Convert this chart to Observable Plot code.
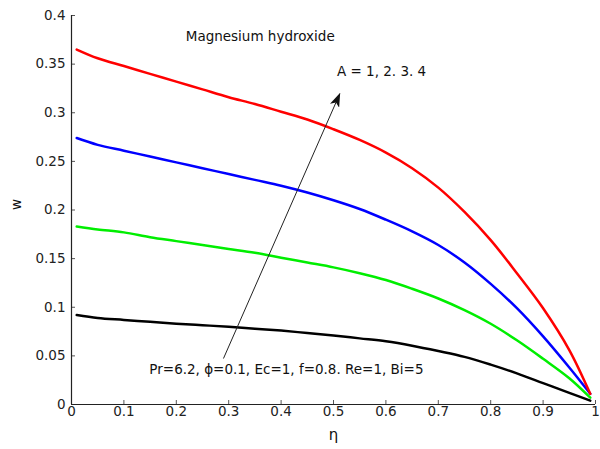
<!DOCTYPE html>
<html><head><meta charset="utf-8">
<script src="https://cdn.jsdelivr.net/npm/d3@7"></script>
<script src="https://cdn.jsdelivr.net/npm/@observablehq/plot@0.6"></script>
<style>body{margin:0;background:#fff} svg{display:block}</style>
</head><body><div id="chart"></div>
<script>
const eta = [0.01, 0.05, 0.1, 0.15, 0.2, 0.25, 0.3, 0.35, 0.4, 0.45, 0.5, 0.55, 0.6, 0.65, 0.7, 0.75, 0.8, 0.85, 0.9, 0.95, 0.99];
const wA1 = [0.092, 0.089, 0.087, 0.085, 0.083, 0.0815, 0.080, 0.078, 0.076, 0.0735, 0.071, 0.068, 0.065, 0.0605, 0.055, 0.049, 0.041, 0.032, 0.022, 0.012, 0.004];
const wA2 = [0.183, 0.180, 0.177, 0.172, 0.168, 0.164, 0.160, 0.156, 0.151, 0.146, 0.141, 0.135, 0.128, 0.119, 0.109, 0.097, 0.083, 0.066, 0.047, 0.027, 0.007];
const wA3 = [0.274, 0.267, 0.261, 0.255, 0.249, 0.243, 0.237, 0.231, 0.225, 0.218, 0.210, 0.201, 0.190, 0.178, 0.164, 0.146, 0.124, 0.099, 0.070, 0.038, 0.011];
const wA4 = [0.365, 0.356, 0.348, 0.340, 0.332, 0.324, 0.316, 0.309, 0.301, 0.293, 0.283, 0.272, 0.259, 0.243, 0.223, 0.198, 0.169, 0.135, 0.099, 0.056, 0.011];
const seriesNames = ["A=1", "A=2", "A=3", "A=4"];
const seriesColors = ["#000000", "#00ee00", "#0000ff", "#ff0000"];
const xTicks = [0, 0.1, 0.2, 0.3, 0.4, 0.5, 0.6, 0.7, 0.8, 0.9, 1];
const yTicks = [0, 0.05, 0.1, 0.15, 0.2, 0.25, 0.3, 0.35, 0.4];
const notes = [
  {x: 0.218, y: 0.378, text: "Magnesium hydroxide"},
  {x: 0.5066, y: 0.3427, text: "A = 1, 2. 3. 4"},
  {x: 0.1486, y: 0.036, text: "Pr=6.2, \u03d5=0.1, Ec=1, f=0.8. Re=1, Bi=5"}
];
const arrowLine = [{x1: 0.290, y1: 0.0473, x2: 0.512, y2: 0.3195}];

const allW = [wA1, wA2, wA3, wA4];
const rows = allW.flatMap((ws, k) => ws.map((w, i) => ({eta: eta[i], w, s: seriesNames[k]})));
const fmt = d => String(+d.toFixed(2));

const plot = Plot.plot({
  width: 600, height: 449,
  marginLeft: 71, marginRight: 5, marginTop: 15, marginBottom: 45,
  style: {fontFamily: "DejaVu Sans", fontSize: "13.5px", color: "#222", background: "#fff"},
  x: {domain: [0, 1]},
  y: {domain: [0, 0.4]},
  color: {domain: seriesNames, range: seriesColors},
  marks: [
    Plot.axisX({ticks: xTicks, tickSize: 0, tickPadding: 2, tickFormat: fmt, label: null}),
    Plot.axisX({ticks: xTicks, tickSize: -4, tickFormat: () => "", label: null, stroke: "#555"}),
    Plot.axisY({ticks: yTicks, tickSize: 0, tickPadding: 6, tickFormat: fmt, label: null}),
    Plot.axisY({ticks: yTicks, tickSize: -4, tickFormat: () => "", label: null, stroke: "#555"}),
    Plot.ruleY([0], {stroke: "#222", strokeWidth: 1.2}),
    Plot.ruleX([0], {stroke: "#222", strokeWidth: 1.2}),
    Plot.line(rows, {x: "eta", y: "w", z: "s", stroke: "s", strokeWidth: 2.5, curve: "catmull-rom"}),
    Plot.link(arrowLine, {x1: "x1", y1: "y1", x2: "x2", y2: "y2", stroke: "#222", strokeWidth: 1}),
    Plot.text(notes, {x: "x", y: "y", text: "text", textAnchor: "start", fill: "#111"}),
    Plot.text(["w"], {frameAnchor: "left", dx: -55, rotate: -90, fill: "#111"}),
    Plot.text(["\u03b7"], {frameAnchor: "bottom", dy: 35, fill: "#111", fontSize: 15})
  ]
});
document.getElementById("chart").append(plot);

const svg = d3.select(plot);
const defs = svg.insert("defs", ":first-child");
defs.append("marker")
  .attr("id", "ahead").attr("viewBox", "0 0 14 10").attr("refX", 13).attr("refY", 5)
  .attr("markerWidth", 14).attr("markerHeight", 10).attr("markerUnits", "userSpaceOnUse")
  .attr("orient", "auto")
  .append("path").attr("d", "M0,0 L14,5 L0,10 L3.5,5 Z").attr("fill", "#111");
svg.selectAll("g[aria-label=link] path").attr("marker-end", "url(#ahead)");
</script>
</body></html>
